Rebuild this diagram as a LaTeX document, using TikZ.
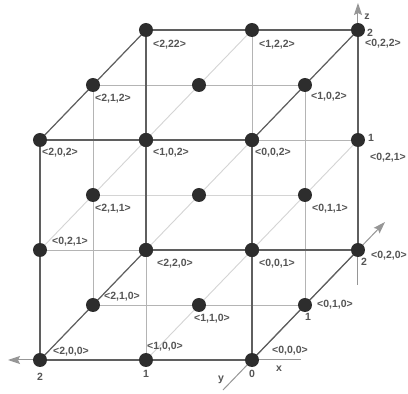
\documentclass[tikz,border=0pt]{standalone}
\usepackage{fontspec}
\setsansfont{Liberation Sans}
\usepackage{tikz}
\usetikzlibrary{arrows.meta,positioning}
\definecolor{dotcolor}{RGB}{45,45,45}
\definecolor{edgecolor}{RGB}{95,95,95}
\definecolor{gridcolor}{RGB}{180,180,180}
\definecolor{diagcolor}{RGB}{212,212,212}
\definecolor{axiscolor}{RGB}{150,150,150}
\definecolor{labelcolor}{RGB}{85,85,85}

\begin{document}
\begin{tikzpicture}[
    x={(-106pt,0pt)}, y={(53pt,55pt)}, z={(0pt,110pt)},
    font=\sffamily\bfseries\fontsize{10.5}{12}\selectfont,
    lattice/.style={circle, fill=dotcolor, inner sep=0pt, minimum size=14pt},
    cubeedge/.style={draw=edgecolor, line width=1.2pt},
    gridline/.style={draw=gridcolor, line width=.9pt},
    diagline/.style={draw=diagcolor, line width=.9pt},
    axisline/.style={draw=axiscolor, line width=1pt, -{Stealth[length=12pt,width=8pt,inset=2pt]}},
    coordlabel/.style={anchor=west, inner sep=0pt, text=labelcolor},
    ticklabel/.style={inner sep=0pt, text=labelcolor}
]
    \useasboundingbox (-252pt,-34pt) rectangle (156pt,360pt);

    % lattice points
    \foreach \a in {0,1,2}
        \foreach \b in {0,1,2}
            \foreach \c in {0,1,2}
                \coordinate (p\a\b\c) at (\a,\b,\c);

    % inner lines
    \foreach \a/\b in {0/0,0/1,0/2,1/0,1/2,2/0,2/1,2/2}
        \draw[gridline] (p\a\b0) -- (p\a\b2);
    \foreach \b/\c in {0/0,0/1,0/2,1/0,1/2,2/0,2/1,2/2}
        \draw[gridline] (p0\b\c) -- (p2\b\c);
    \draw[diagline] (p011) -- (p211);
    \foreach \a in {0,1,2}
        \foreach \c in {0,1,2}
            \draw[diagline] (p\a0\c) -- (p\a2\c);

    % axes
    \coordinate (xfrom) at (49pt,0pt);
    \coordinate (xto) at (-244pt,0pt);
    \coordinate (yfrom) at (-29pt,-30pt);
    \coordinate (yto) at (133pt,138pt);
    \coordinate (zfrom) at (106pt,75pt);
    \coordinate (zto) at (106pt,357pt);
    \draw[axisline] (xfrom) -- (xto);
    \draw[axisline] (yfrom) -- (yto);
    \draw[axisline] (zfrom) -- (zto);

    % cube edges
    \draw[cubeedge] (p000) -- (p002) (p020) -- (p022) (p200) -- (p202) (p220) -- (p222);
    \draw[cubeedge] (p000) -- (p200) (p002) -- (p202) (p020) -- (p220) (p022) -- (p222);
    \draw[cubeedge] (p000) -- (p020) (p002) -- (p022) (p200) -- (p220) (p202) -- (p222);

    \foreach \a in {0,1,2}
        \foreach \b in {0,1,2}
            \foreach \c in {0,1,2}
                \node[lattice] (d\a\b\c) at (p\a\b\c) {};

    % point labels
    \node[coordlabel] (t222) at (-99pt,315pt) {<2,22>};
    \node[coordlabel] (t122) at (7pt,315pt) {<1,2,2>};
    \node[coordlabel] (t022) at (113pt,316pt) {<0,2,2>};
    \node[coordlabel] (t212) at (-157pt,261pt) {<2,1,2>};
    \node[coordlabel] (t012) at (59pt,263pt) {<1,0,2>};
    \node[coordlabel] (t202) at (-210pt,207pt) {<2,0,2>};
    \node[coordlabel] (t102) at (-99pt,207pt) {<1,0,2>};
    \node[coordlabel] (t002) at (3pt,207pt) {<0,0,2>};
    \node[coordlabel] (t021) at (118pt,202pt) {<0,2,1>};
    \node[coordlabel] (t211) at (-157pt,151pt) {<2,1,1>};
    \node[coordlabel] (t011) at (60pt,151pt) {<0,1,1>};
    \node[coordlabel] (t201) at (-200pt,118pt) {<0,2,1>};
    \node[coordlabel] (t101) at (-95pt,96pt) {<2,2,0>};
    \node[coordlabel] (t001) at (7pt,96pt) {<0,0,1>};
    \node[coordlabel] (t020) at (119pt,104pt) {<0,2,0>};
    \node[coordlabel] (t210) at (-148pt,63pt) {<2,1,0>};
    \node[coordlabel] (t110) at (-58pt,41pt) {<1,1,0>};
    \node[coordlabel] (t010) at (65pt,55pt) {<0,1,0>};
    \node[coordlabel] (t100) at (-105pt,13pt) {<1,0,0>};
    \node[coordlabel] (t200) at (-199pt,8pt) {<2,0,0>};
    \node[coordlabel] (t000) at (20pt,9pt) {<0,0,0>};

    % ticks and axis names
    \node[ticklabel] (xtick2) at (-212pt,-17pt) {2};
    \node[ticklabel] (xtick1) at (-106pt,-14pt) {1};
    \node[ticklabel] (xtick0) at (0pt,-14pt) {0};
    \node[ticklabel] (ytick1) at (56pt,43pt) {1};
    \node[ticklabel] (ytick2) at (112pt,98pt) {2};
    \node[ticklabel] (ztick1) at (119pt,222pt) {1};
    \node[ticklabel] (ztick2) at (118pt,327pt) {2};
    \node[ticklabel] (xname) at (27pt,-9pt) {x};
    \node[ticklabel] (yname) at (-31pt,-20pt) {y};
    \node[ticklabel] (zname) at (115pt,343pt) {z};

\end{tikzpicture}
\end{document}
